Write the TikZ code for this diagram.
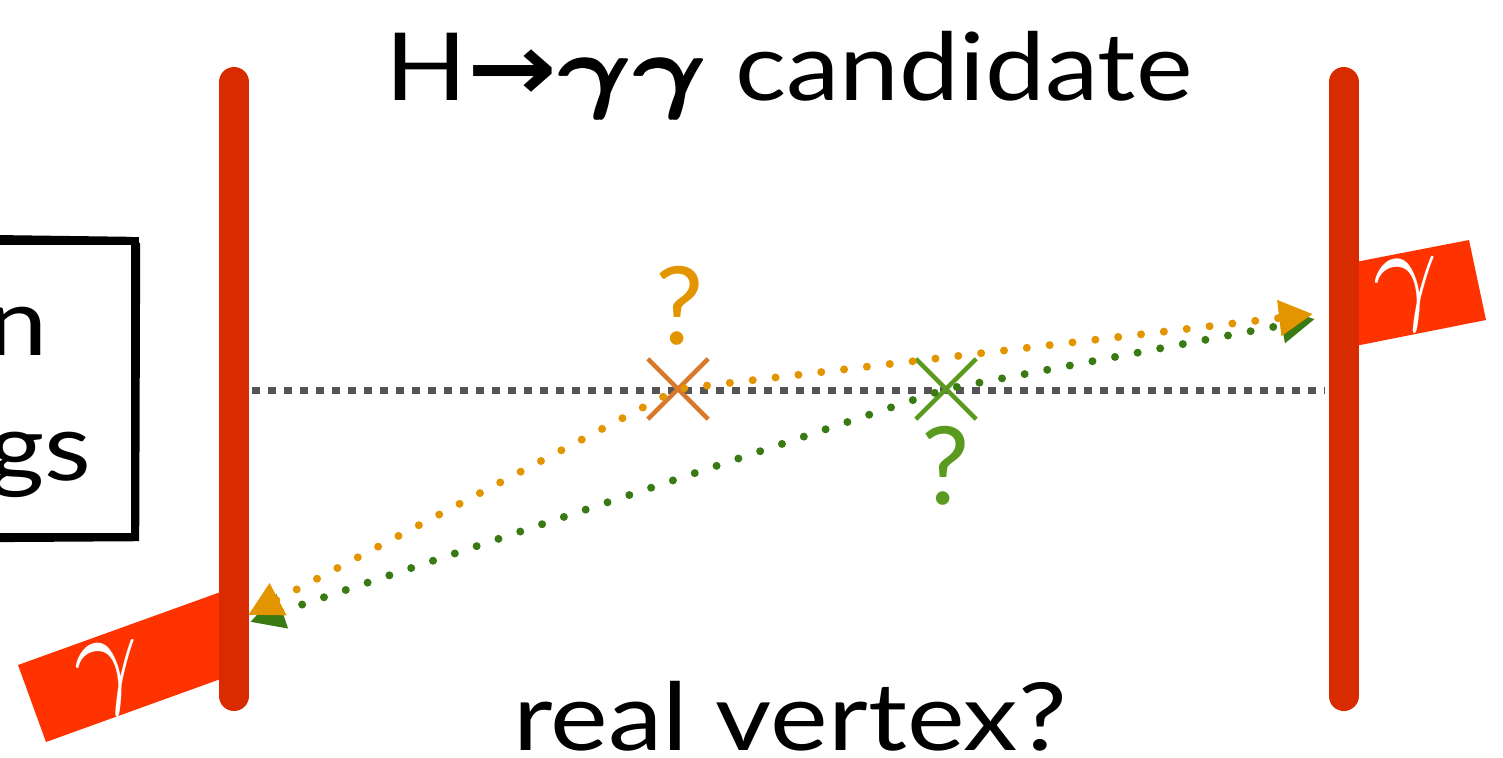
\documentclass[tikz,border=0pt]{standalone}
\usepackage{bm}
\usepackage{fontspec}
\setmainfont{Lato}
\newfontfamily\symfont{DejaVu Sans}
\usetikzlibrary{arrows.meta,shapes.misc}
\definecolor{barred}{HTML}{D92B00}
\definecolor{flagred}{HTML}{FF3300}
\definecolor{dotgray}{HTML}{555555}
\definecolor{orng}{HTML}{E39500}
\definecolor{orngx}{HTML}{D8782A}
\definecolor{grn}{HTML}{3A7A12}
\definecolor{grnx}{HTML}{5A9A1E}
\newcommand{\wide}[2][1.15]{\scalebox{#1}[1]{#2}}
\newcommand{\biggamma}[1]{\scalebox{#1}{\fontsize{10}{12}\selectfont$\gamma$}}
\newcommand{\heavygamma}{\rlap{$\bm{\gamma}$}\kern0.25pt\rlap{$\bm{\gamma}$}\kern0.25pt$\bm{\gamma}$}
\newcommand{\boldgammas}[1]{\scalebox{#1}{\fontsize{10}{12}\selectfont\heavygamma\heavygamma}}
\begin{document}
\begin{tikzpicture}[x=0.5pt,y=-0.5pt,
  bigtext/.style={font=\fontsize{47}{52}\selectfont, inner sep=0pt},
  qmark/.style={font=\fontsize{54}{58}\selectfont, inner sep=0pt},
  flagtext/.style={text=white, inner sep=0pt},
  detector/.style={draw=barred, line width=15pt, line cap=round},
  vtx/.style={cross out, draw, line width=2.2pt, minimum size=28pt, inner sep=0pt},
  track/.style={line width=4pt, line cap=round, dash pattern=on 0pt off 11.5pt,
    {Triangle[length=17pt,width=17pt]}-{Triangle[length=17pt,width=17pt]}},
  beamline/.style={draw=dotgray, line width=3.5pt, dash pattern=on 4pt off 4pt}]
\useasboundingbox (0,0) rectangle (1503,757);
\clip (0,0) rectangle (1503,757);
% flags
\fill[flagred] (18,665) -- (240,585) -- (240,672) -- (46,742) -- cycle;
\fill[flagred] (1340,265) -- (1469,240) -- (1486,320) -- (1340,349) -- cycle;
% detector bars
\coordinate (lt) at (234,82);
\coordinate (lb) at (234,696);
\coordinate (rt) at (1343.5,82);
\coordinate (rb) at (1343.5,696);
\draw[detector] (lt) -- (lb);
\draw[detector] (rt) -- (rb);
% flag labels
\node[flagtext, rotate=8] (gl) at (110,679) {\biggamma{5.8}};
\node[flagtext, rotate=6] (gr) at (1408,295) {\biggamma{5.8}};
% beam line
\coordinate (bl) at (252,390);
\coordinate (br) at (1325,390);
\draw[beamline] (bl) -- (br);
% vertices
\node[vtx, draw=orngx] (ov) at (678,389) {};
\node[vtx, draw=grnx] (gv) at (946,389) {};
% tracks
\coordinate (gL) at (250,622);
\coordinate (gR) at (1315,319);
\coordinate (oL) at (248,615);
\coordinate (oR) at (1313,314);
\draw[track, grn] (gL) -- (gv.center) -- (gR);
\draw[track, orng] (oL) -- (ov.center) -- (oR);
% question marks
\node[qmark, text=orng] (oq) at (680,306) {?};
\node[qmark, text=grnx] (gq) at (946,466) {?};
% texts
\node[bigtext, anchor=base] (title) at (789,100) {\wide[1.14]{H{\symfont\bfseries →}\boldgammas{4.7} candidate}};
\node[bigtext, anchor=base] (sub) at (790,750) {\wide[1.16]{real vertex?}};
% left box
\draw[line width=4pt] (-20,241) -- (135,241) -- (135,537) -- (-20,537);
\draw[line width=1.2pt] (-20,236) -- (131,238) -- (139,244) -- (138,540) -- (-20,541);
\node[bigtext, anchor=base east] (t1) at (48,355) {\wide{n}};
\node[bigtext, anchor=base east] (t2) at (92,480) {\wide{gs}};
\end{tikzpicture}
\end{document}
